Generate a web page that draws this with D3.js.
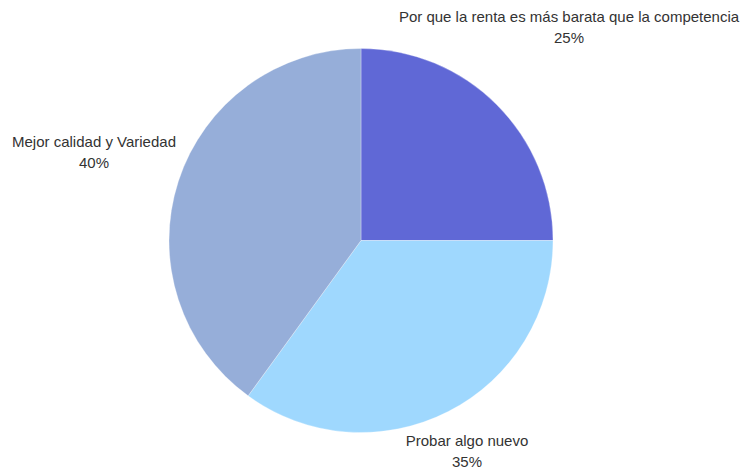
<!DOCTYPE html>
<html><head><meta charset="utf-8">
<script src="https://cdn.jsdelivr.net/npm/d3@7"></script>
<style>body{margin:0;background:#fff}svg{display:block}</style>
</head><body><svg id="c" width="746" height="469"></svg>
<script>
const categories = ["Por que la renta es más barata que la competencia", "Probar algo nuevo", "Mejor calidad y Variedad"];
const values = [25, 35, 40];
const colors = ["#6068d6", "#9fd8fe", "#96aed9"];
const labelPos = [[569, 17], [467, 441], [94, 142]];

const svg = d3.select("#c");
const cx = 361, cy = 240.5, r = 192;
const pie = d3.pie().sort(null).value(d => d)(values);
const arc = d3.arc().innerRadius(0).outerRadius(r);
const g = svg.append("g").attr("transform", `translate(${cx},${cy})`);
g.selectAll("path").data(pie).join("path")
  .attr("d", arc).attr("fill", (d, i) => colors[i])
  .attr("stroke", "#fff").attr("stroke-width", 0.3);

const total = d3.sum(values);
const lab = svg.selectAll("g.lab").data(categories).join("g").attr("class", "lab")
  .attr("transform", (d, i) => `translate(${labelPos[i][0]},${labelPos[i][1]})`);
lab.append("text").attr("text-anchor", "middle").attr("dy", "0.35em")
  .attr("font-family", "Liberation Sans, Arial, sans-serif").attr("font-size", 15).attr("fill", "#333")
  .text(d => d);
lab.append("text").attr("text-anchor", "middle").attr("y", 21).attr("dy", "0.35em")
  .attr("font-family", "Liberation Sans, Arial, sans-serif").attr("font-size", 15).attr("fill", "#333")
  .text((d, i) => Math.round(values[i] / total * 100) + "%");
</script></body></html>
